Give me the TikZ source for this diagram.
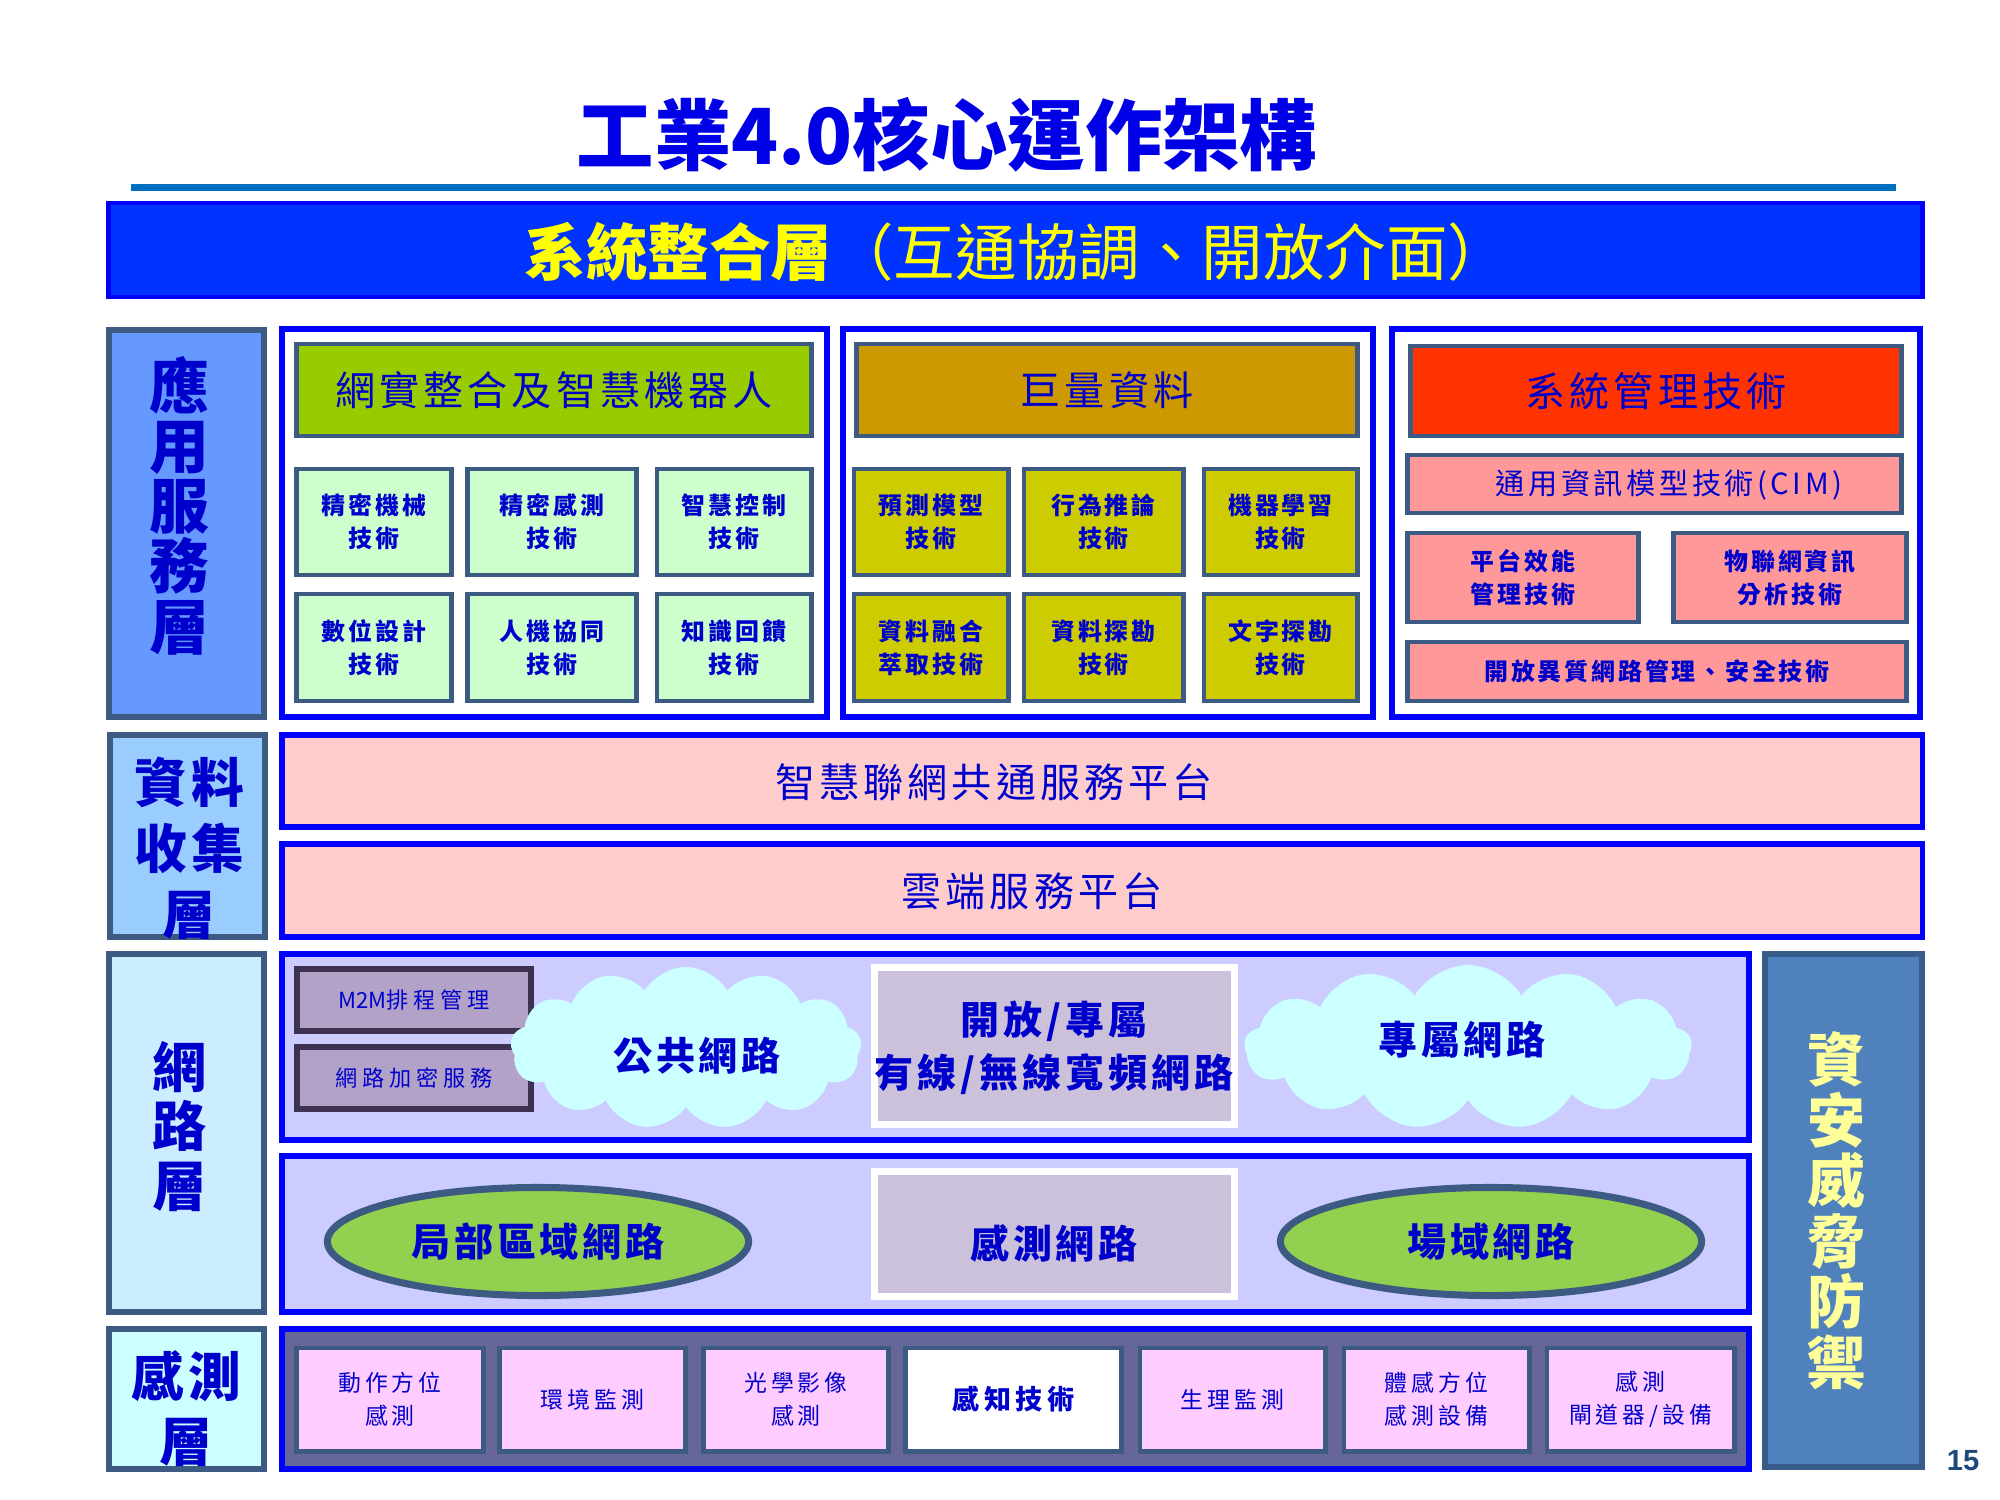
\documentclass[tikz,border=0pt]{standalone}
\usepackage{fontspec}
\setmainfont{Noto Sans CJK TC}
\setsansfont{Liberation Sans}
\usetikzlibrary{shapes.geometric,shapes.symbols}
\definecolor{tblue}{HTML}{0000E6}
\definecolor{txt}{HTML}{0000CC}
\definecolor{bbord}{HTML}{0000FF}
\definecolor{barfill}{HTML}{0033FF}
\definecolor{ytxt}{HTML}{FFFF00}
\definecolor{uline}{HTML}{0070C0}
\definecolor{slate}{HTML}{3C5A82}
\definecolor{lA}{HTML}{6699FF}
\definecolor{lB}{HTML}{99CCFF}
\definecolor{lC}{HTML}{CCECFF}
\definecolor{lD}{HTML}{CCFFFF}
\definecolor{hgreen}{HTML}{99CC00}
\definecolor{sgreen}{HTML}{CCFFCC}
\definecolor{hgold}{HTML}{CC9900}
\definecolor{solive}{HTML}{CCCC00}
\definecolor{hred}{HTML}{FF3300}
\definecolor{salmon}{HTML}{FF9999}
\definecolor{dpink}{HTML}{FFCCCC}
\definecolor{lav}{HTML}{CCCCFF}
\definecolor{mauve}{HTML}{B3A2C7}
\definecolor{dpurp}{HTML}{3F3151}
\definecolor{grlav}{HTML}{CCC1DA}
\definecolor{cloudc}{HTML}{CCFFFF}
\definecolor{egreen}{HTML}{92D050}
\definecolor{sensbg}{HTML}{666699}
\definecolor{spink}{HTML}{FFCCFF}
\definecolor{secfill}{HTML}{4F81BD}
\definecolor{secbord}{HTML}{385D8A}
\definecolor{secytxt}{HTML}{FFFF99}
\definecolor{pgnum}{HTML}{1F497D}
\newcommand\fs[2]{\fontsize{#1}{#2}\selectfont}
\newcommand\lsp[1]{\addfontfeatures{LetterSpace=#1}}
% name, style, x1, y1, x2, y2, text  (outer extents in px)
\newcommand\bx[7]{%
  \pgfmathsetmacro\cx{(#3+#5)/2}%
  \pgfmathsetmacro\cy{(#4+#6)/2}%
  \pgfmathsetmacro\ww{(#5-#3-6)/100}%
  \pgfmathsetmacro\hh{(#6-#4-6)/100}%
  \node[#2,minimum width=\ww cm,minimum height=\hh cm] (#1) at (\cx,\cy) {#7};}
\tikzset{
  base/.style={inner sep=0pt, outer sep=0pt, text=txt},
  bluebox/.style={base, draw=bbord, line width=1.7pt},
  slatebox/.style={base, draw=slate, line width=1.4pt},
  lbox/.style={base, draw=slate, line width=1.6pt},
  hdr/.style={font=\fs{11.4}{14}\lsp{10}},
  cimf/.style={font=\fs{8.3}{10}\lsp{12}},
  sbold/.style={font=\bfseries\fs{6.8}{9.4}\lsp{12}, align=center},
  sreg/.style={font=\fs{6.5}{9.4}\lsp{17}, align=center},
  netb/.style={font=\bfseries\fs{11.1}{15.1}\lsp{10}, align=center},
  m2mf/.style={font=\fs{6.3}{8}},
  vlabel/.style={base, align=center},
  cloudn/.style={cloud, cloud puffs=13, cloud puff arc=120, cloud ignores aspect, fill=cloudc, draw=none, inner sep=0pt, outer sep=0pt},
  ell/.style={base, ellipse, draw=slate, line width=2pt, fill=egreen, netb},
  sbox/.style={base, draw=slate, line width=1.4pt, fill=spink, sreg}
}
\begin{document}
\begin{tikzpicture}[x={(0.01cm,0)}, y={(0,-0.01cm)}]
\useasboundingbox[fill=white] (0,0) rectangle (2000,1500);
% title
\node[base, text=tblue, font=\bfseries\fs{22}{26}] (title) at (947,135) {工業4.0核心運作架構};
\coordinate (ul1) at (131,187.5);
\coordinate (ul2) at (1896,187.5);
\draw[uline, line width=2pt] (ul1) -- (ul2);
% system integration bar
\bx{sys}{base, draw=bbord, fill=barfill, line width=1.2pt}{106}{200}{1925}{300}{}
\node[base, text=ytxt, font=\fs{17.5}{20}] (systxt) at (1017,252) {{\bfseries 系統整合層}（互通協調、開放介面）};
% left labels
\bx{Lapp}{lbox, fill=lA}{106}{327}{267}{720}{}
\node[vlabel, font=\bfseries\fs{17}{17.15}] (LappT) at (179,505.5) {應\\用\\服\\務\\層};
\bx{Ldat}{lbox, fill=lB}{107}{732}{268}{940}{}
\node[vlabel, font=\bfseries\fs{15}{18.8}\lsp{8}] (LdatT) at (189,848) {資料\\收集\\層};
\bx{Lnet}{lbox, fill=lC}{106}{951}{267}{1315}{}
\node[vlabel, font=\bfseries\fs{15.4}{16.9}] (LnetT) at (180,1126.5) {網\\路\\層};
\bx{Lsen}{lbox, fill=lD}{106}{1326}{267}{1472}{}
\node[vlabel, font=\bfseries\fs{15}{18.5}\lsp{8}] (LsenT) at (186,1408.5) {感測\\層};
% application containers
\bx{cA}{bluebox, fill=white}{279}{326}{830}{720}{}
\bx{cB}{bluebox, fill=white}{840}{326}{1376}{720}{}
\bx{cC}{bluebox, fill=white}{1389}{326}{1923}{720}{}
\bx{hA}{slatebox, fill=hgreen, hdr}{294}{341}{814}{439}{網實整合及智慧機器人}
\bx{hB}{slatebox, fill=hgold, hdr}{854}{341}{1360}{439}{巨量資料}
\bx{hC}{slatebox, fill=hred, hdr}{1408}{343}{1904}{439}{系統管理技術}
\bx{a1}{slatebox, fill=sgreen, sbold}{294}{466}{454}{578}{精密機械\\技術}
\bx{a2}{slatebox, fill=sgreen, sbold}{465}{466}{639}{578}{精密感測\\技術}
\bx{a3}{slatebox, fill=sgreen, sbold}{654}{466}{814}{578}{智慧控制\\技術}
\bx{a4}{slatebox, fill=sgreen, sbold}{294}{591}{454}{704}{數位設計\\技術}
\bx{a5}{slatebox, fill=sgreen, sbold}{465}{591}{639}{704}{人機協同\\技術}
\bx{a6}{slatebox, fill=sgreen, sbold}{654}{591}{814}{704}{知識回饋\\技術}
\bx{b1}{slatebox, fill=solive, sbold}{851}{466}{1011}{578}{預測模型\\技術}
\bx{b2}{slatebox, fill=solive, sbold}{1021}{466}{1186}{578}{行為推論\\技術}
\bx{b3}{slatebox, fill=solive, sbold}{1201}{466}{1360}{578}{機器學習\\技術}
\bx{b4}{slatebox, fill=solive, sbold}{851}{591}{1011}{704}{資料融合\\萃取技術}
\bx{b5}{slatebox, fill=solive, sbold}{1021}{591}{1186}{704}{資料探勘\\技術}
\bx{b6}{slatebox, fill=solive, sbold}{1201}{591}{1360}{704}{文字探勘\\技術}
\bx{cim}{slatebox, fill=salmon}{1405}{452}{1904}{516}{}
\node[base, cimf] (cimT) at (1669,485) {通用資訊模型技術(CIM)};
\bx{c1}{slatebox, fill=salmon, sbold}{1405}{530}{1641}{625}{平台效能\\管理技術}
\bx{c2}{slatebox, fill=salmon, sbold}{1671}{530}{1909}{625}{物聯網資訊\\分析技術}
\bx{c3}{slatebox, fill=salmon, sbold}{1405}{639}{1909}{704}{開放異質網路管理、安全技術}
% data collection
\bx{d1}{bluebox, fill=dpink}{279}{732}{1925}{830}{}
\node[base, hdr] (d1T) at (994,782) {智慧聯網共通服務平台};
\bx{d2}{bluebox, fill=dpink}{279}{841}{1925}{940}{}
\node[base, hdr] (d2T) at (1032,891) {雲端服務平台};
% network layer
\bx{n1}{bluebox, fill=lav}{279}{951}{1752}{1143}{}
\bx{n2}{bluebox, fill=lav}{279}{1153}{1752}{1315}{}
\bx{m2m}{base, draw=dpurp, fill=mauve, line width=1.7pt, m2mf}{294}{966}{534}{1034}{M2M{\lsp{22}排程管理}}
\bx{enc}{base, draw=dpurp, fill=mauve, line width=1.7pt, m2mf}{294}{1044}{534}{1112}{{\lsp{22}網路加密服務}}
\node[cloudn, minimum width=3.51cm, minimum height=1.62cm] (cl1) at (686,1048) {};
\node[base, netb] (cl1T) at (697,1056) {公共網路};
\bx{open}{base, draw=white, fill=grlav, line width=2pt}{872}{965}{1237}{1127}{}
\node[cloudn, minimum width=4.47cm, minimum height=1.64cm] (cl2) at (1468,1047) {};
\node[base, netb] (cl2T) at (1462,1040) {專屬網路};
\node[base, netb] (openT) at (1054,1047.5) {開放/專屬\\有線/無線寬頻網路};
\node[ell, minimum width=4.21cm, minimum height=1.08cm] (e1) at (538,1241.5) {局部區域網路};
\bx{sn}{base, draw=white, fill=grlav, line width=2pt}{872}{1169}{1237}{1299}{}
\node[base, netb] (snT) at (1054,1243) {感測網路};
\node[ell, minimum width=4.21cm, minimum height=1.08cm] (e2) at (1491,1241.5) {場域網路};
% sensing layer
\bx{sens}{bluebox, fill=sensbg}{279}{1326}{1752}{1472}{}
\bx{s1}{sbox}{294}{1345}{486}{1454}{動作方位\\感測}
\bx{s2}{sbox}{497}{1345}{688}{1454}{環境監測}
\bx{s3}{sbox}{701}{1345}{891}{1454}{光學影像\\感測}
\bx{s4}{base, draw=slate, line width=1.4pt, fill=white, font=\bfseries\fs{7.7}{10}\lsp{16}}{903}{1345}{1124}{1454}{感知技術}
\bx{s5}{sbox}{1137}{1345}{1328}{1454}{生理監測}
\bx{s6}{sbox}{1341}{1345}{1532}{1454}{體感方位\\感測設備}
\bx{s7}{sbox}{1544}{1345}{1737}{1454}{感測\\閘道器/設備}
% security column
\bx{sec}{base, draw=secbord, fill=secfill, line width=1.6pt}{1762}{951}{1925}{1470}{}
\node[vlabel, text=secytxt, font=\bfseries\fs{16.5}{17.2}] (secT) at (1836,1211) {資\\安\\威\\脅\\防\\禦};
% page number
\node[base, text=pgnum, font=\sffamily\bfseries\fs{8.3}{10}] (pg) at (1963,1461) {15};
\end{tikzpicture}
\end{document}
